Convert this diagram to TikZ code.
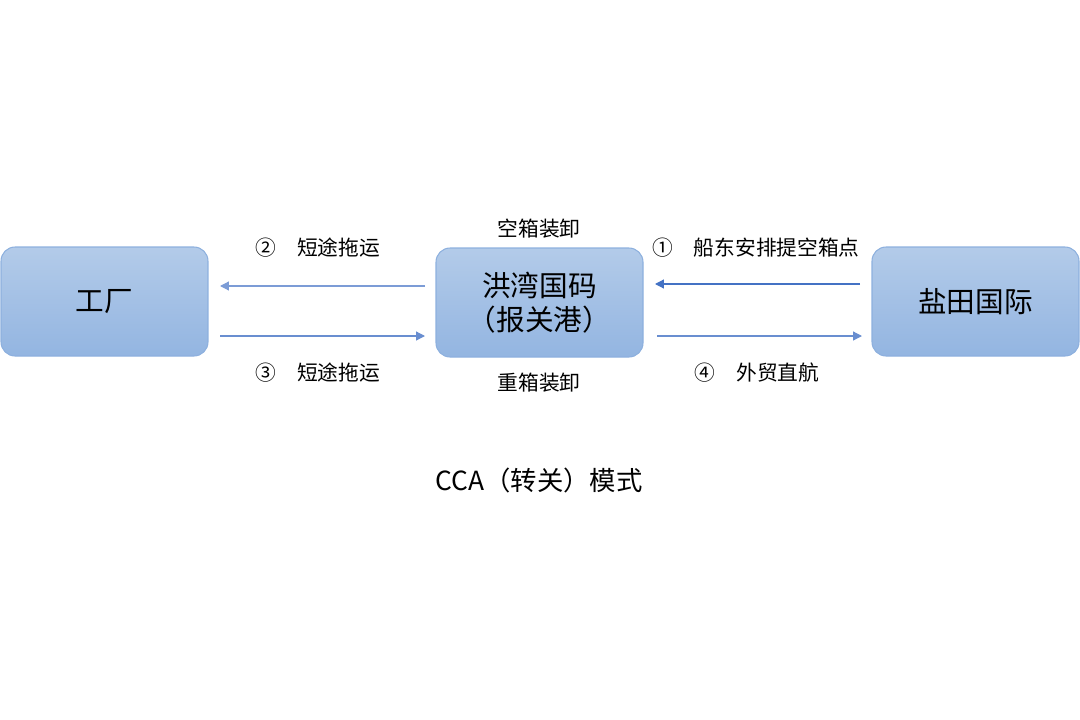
\documentclass[tikz,border=0pt]{standalone}
\usepackage{fontspec}
\setmainfont{Noto Sans CJK SC}
\usetikzlibrary{arrows.meta}
\definecolor{boxtop}{HTML}{B3CBE9}
\definecolor{boxbot}{HTML}{93B5E1}
\definecolor{boxline}{HTML}{8DB0DE}
\definecolor{arr}{HTML}{4472C4}
\begin{document}
\begin{tikzpicture}[x=0.02cm,y=-0.02cm,
  place/.style={draw=boxline, line width=0.6pt, rounded corners=8pt, top color=boxtop, bottom color=boxbot,
    minimum width=207*0.02cm, minimum height=109*0.02cm, inner sep=0pt, align=center,
    font=\fontsize{16.3pt}{19pt}\selectfont},
  lbl/.style={inner sep=0pt, font=\fontsize{11.8pt}{14pt}\selectfont},
  link/.style={draw=arr, line width=0.7pt, -{Triangle[length=5pt,width=5pt]}}]
\useasboundingbox (0,0) rectangle (1080,720);
\node[place] (fac) at (104.5,301.5) {工厂};
\node[place] (hw) at (539.5,302.5) {洪湾国码\\（报关港）};
\node[place] (yt) at (975.5,301.5) {盐田国际};
\coordinate (a1s) at (425,286); \coordinate (a1e) at (220,286);
\coordinate (a2s) at (220,336); \coordinate (a2e) at (425,336);
\coordinate (a3s) at (860,284); \coordinate (a3e) at (655,284);
\coordinate (a4s) at (657,336); \coordinate (a4e) at (862,336);
\draw[link, draw=arr!70] (a1s) -- (a1e);
\draw[link, draw=arr!80] (a2s) -- (a2e);
\draw[link] (a3s) -- (a3e);
\draw[link, draw=arr!80] (a4s) -- (a4e);
\node[lbl] (l2) at (318,248) {②\hspace{1em}短途拖运};
\node[lbl] (l3) at (318,373) {③\hspace{1em}短途拖运};
\node[lbl] (l1) at (756,248) {①\hspace{1em}船东安排提空箱点};
\node[lbl] (l4) at (757,373) {④\hspace{1em}外贸直航};
\node[lbl] (top) at (539,229) {空箱装卸};
\node[lbl] (bot) at (539,383) {重箱装卸};
\node[inner sep=0pt, font=\fontsize{15pt}{18pt}\selectfont] (title) at (539,480) {CCA（转关）模式};
\end{tikzpicture}
\end{document}
